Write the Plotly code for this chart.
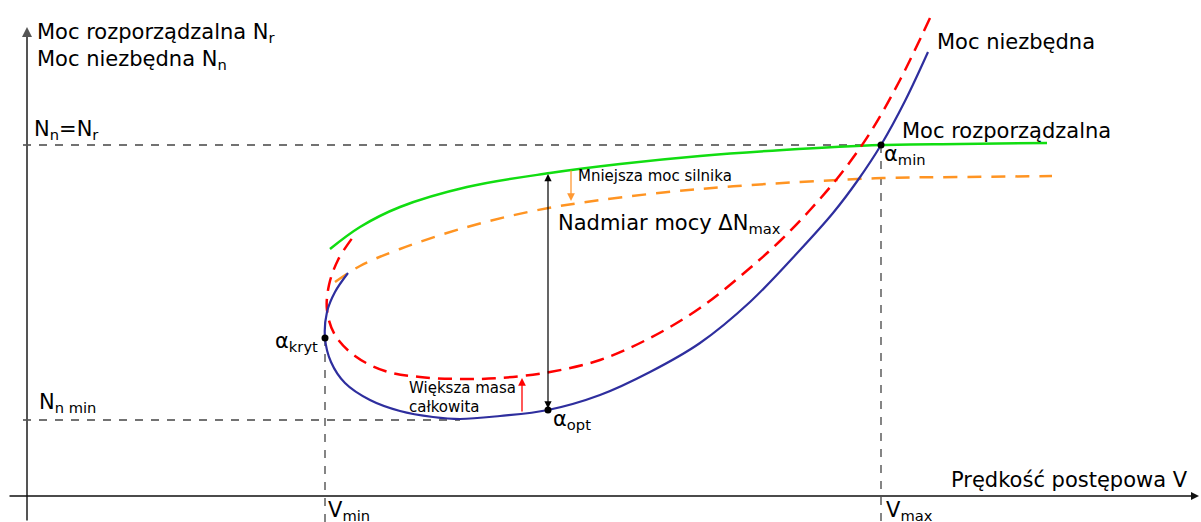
import plotly.graph_objects as go

# Power-vs-speed diagram (helicopter / aircraft performance sketch).
# V: forward speed, N: power, both in arbitrary diagram units.

# Required power (Moc niezbędna), nominal mass
v_req = [901, 878, 854, 831, 806, 773, 723, 673, 623, 573, 521, 473, 433, 406, 373, 343, 318, 304, 298, 300, 308, 321]
n_req = [443, 394, 350, 315, 282, 245, 193, 152, 123, 100, 85, 79, 76, 78, 84, 95, 112, 133, 157, 183, 203, 222]

# Required power for a larger total mass
v_req_heavy = [903, 873, 843, 813, 783, 753, 723, 673, 623, 573, 523, 473, 433, 393, 358, 328, 308, 300, 302, 311, 326]
n_req_heavy = [477, 415, 362, 320, 285, 254, 227, 187, 157, 135, 123, 117, 116, 118, 124, 139, 160, 185, 210, 235, 258]

# Available power (Moc rozporządzalna)
v_avail = [303, 333, 373, 440, 523, 593, 673, 756, 854, 933, 1020]
n_avail = [246, 268, 288, 308, 322, 331, 339, 345, 350, 351, 352]

# Available power with a weaker engine
v_avail_low = [308, 333, 373, 440, 506, 573, 673, 773, 856, 933, 1025]
n_avail_low = [213, 229, 246, 268, 284, 295, 306, 313, 317, 318, 319]

# Characteristic points
v_min, n_kryt = 298, 157
v_opt, n_min = 521, 85
v_max, n_eq = 854, 350
n_avail_at_opt = 321
n_line_min = 75

# Arrows showing the effect of changes
v_engine_arrow, n_engine_from, n_engine_to = 544, 326, 294
v_mass_arrow, n_mass_from, n_mass_to = 495, 82, 117

FONT = "DejaVu Sans"
GUIDE = dict(color="#444444", width=1.3, dash="8px,8px")

fig = go.Figure()

# dashed guide lines
fig.add_trace(go.Scatter(x=[-4, v_max], y=[n_eq, n_eq], mode="lines", line=GUIDE, hoverinfo="skip"))
fig.add_trace(go.Scatter(x=[-4, 433], y=[n_line_min, n_line_min], mode="lines", line=GUIDE, hoverinfo="skip"))
fig.add_trace(go.Scatter(x=[v_min, v_min], y=[n_kryt, -27], mode="lines", line=GUIDE, hoverinfo="skip"))
fig.add_trace(go.Scatter(x=[v_max, v_max], y=[n_eq, -27], mode="lines", line=GUIDE, hoverinfo="skip"))

# curves
fig.add_trace(go.Scatter(x=v_avail_low, y=n_avail_low, mode="lines", line_shape="spline",
                         line=dict(color="#ff9422", width=2.5, dash="14px,10px"), hoverinfo="skip"))
fig.add_trace(go.Scatter(x=v_avail, y=n_avail, mode="lines", line_shape="spline",
                         line=dict(color="#11dd11", width=2.5), hoverinfo="skip"))
fig.add_trace(go.Scatter(x=v_req_heavy, y=n_req_heavy, mode="lines", line_shape="spline",
                         line=dict(color="#ff0000", width=2.5, dash="14px,8px"), hoverinfo="skip"))
fig.add_trace(go.Scatter(x=v_req, y=n_req, mode="lines", line_shape="spline",
                         line=dict(color="#2e2e9e", width=2.2), hoverinfo="skip"))

# characteristic points
fig.add_trace(go.Scatter(x=[v_min, v_opt, v_max], y=[n_kryt, n_min, n_eq], mode="markers",
                         marker=dict(color="black", size=7), hoverinfo="skip"))

annotations = []

def arrow(x0, y0, x1, y1, color, width, head=2, size=1.0, both=False):
    a = dict(x=x1, y=y1, ax=x0, ay=y0, xref="x", yref="y", axref="x", ayref="y",
             showarrow=True, arrowhead=head, arrowsize=size, arrowwidth=width,
             arrowcolor=color, text="")
    if both:
        a.update(arrowside="end+start", startarrowhead=head, startarrowsize=size)
    annotations.append(a)

# coordinate axes
arrow(0, -27, 0, 468, "#555555", 2, head=2, size=1.0)
arrow(-19, -1, 1172, -1, "#111111", 1.6, head=2, size=1.0)

# excess power and change arrows
arrow(v_opt, n_min, v_opt, n_avail_at_opt, "black", 1.2, head=2, size=1.2, both=True)
arrow(v_engine_arrow, n_engine_from, v_engine_arrow, n_engine_to, "#ff9933", 1.3, head=2, size=1.2)
arrow(v_mass_arrow, n_mass_from, v_mass_arrow, n_mass_to, "#ff0000", 1.3, head=2, size=1.2)

def label(x, y, text, size=21, anchor="left"):
    annotations.append(dict(x=x, y=y, xref="x", yref="y", text=text, showarrow=False,
                            xanchor=anchor, yanchor="middle",
                            font=dict(family=FONT, size=size, color="black")))

label(8, 462, "Moc rozporządzalna N<sub>r</sub>")
label(8, 435, "Moc niezbędna N<sub>n</sub>")
label(5, 365, "N<sub>n</sub>=N<sub>r</sub>")
label(10, 92, "N<sub>n min</sub>")
label(922, 15, "Prędkość postępowa V")
label(v_min + 1, -16, "V<sub>min</sub>")
label(v_max + 3, -16, "V<sub>max</sub>")
label(v_min - 5, n_kryt - 4, "α<sub>kryt</sub>", anchor="right")
label(v_opt + 3, n_min - 10, "α<sub>opt</sub>")
label(v_max + 1, n_eq - 10, "α<sub>min</sub>")
label(908, 453, "Moc niezbędna")
label(873, 364, "Moc rozporządzalna")
label(549, 319, "Mniejsza moc silnika", size=15)
label(529, 271, "Nadmiar mocy ΔN<sub>max</sub>")
label(380, 107, "Większa masa", size=15)
label(380, 88, "całkowita", size=15)

fig.update_layout(
    width=1201, height=522,
    margin=dict(l=0, r=0, t=0, b=0),
    paper_bgcolor="white", plot_bgcolor="white",
    showlegend=False,
    xaxis=dict(range=[-27, 1174], visible=False, fixedrange=True),
    yaxis=dict(range=[-27, 495], visible=False, fixedrange=True),
    annotations=annotations,
)

fig.write_html("out.html")
